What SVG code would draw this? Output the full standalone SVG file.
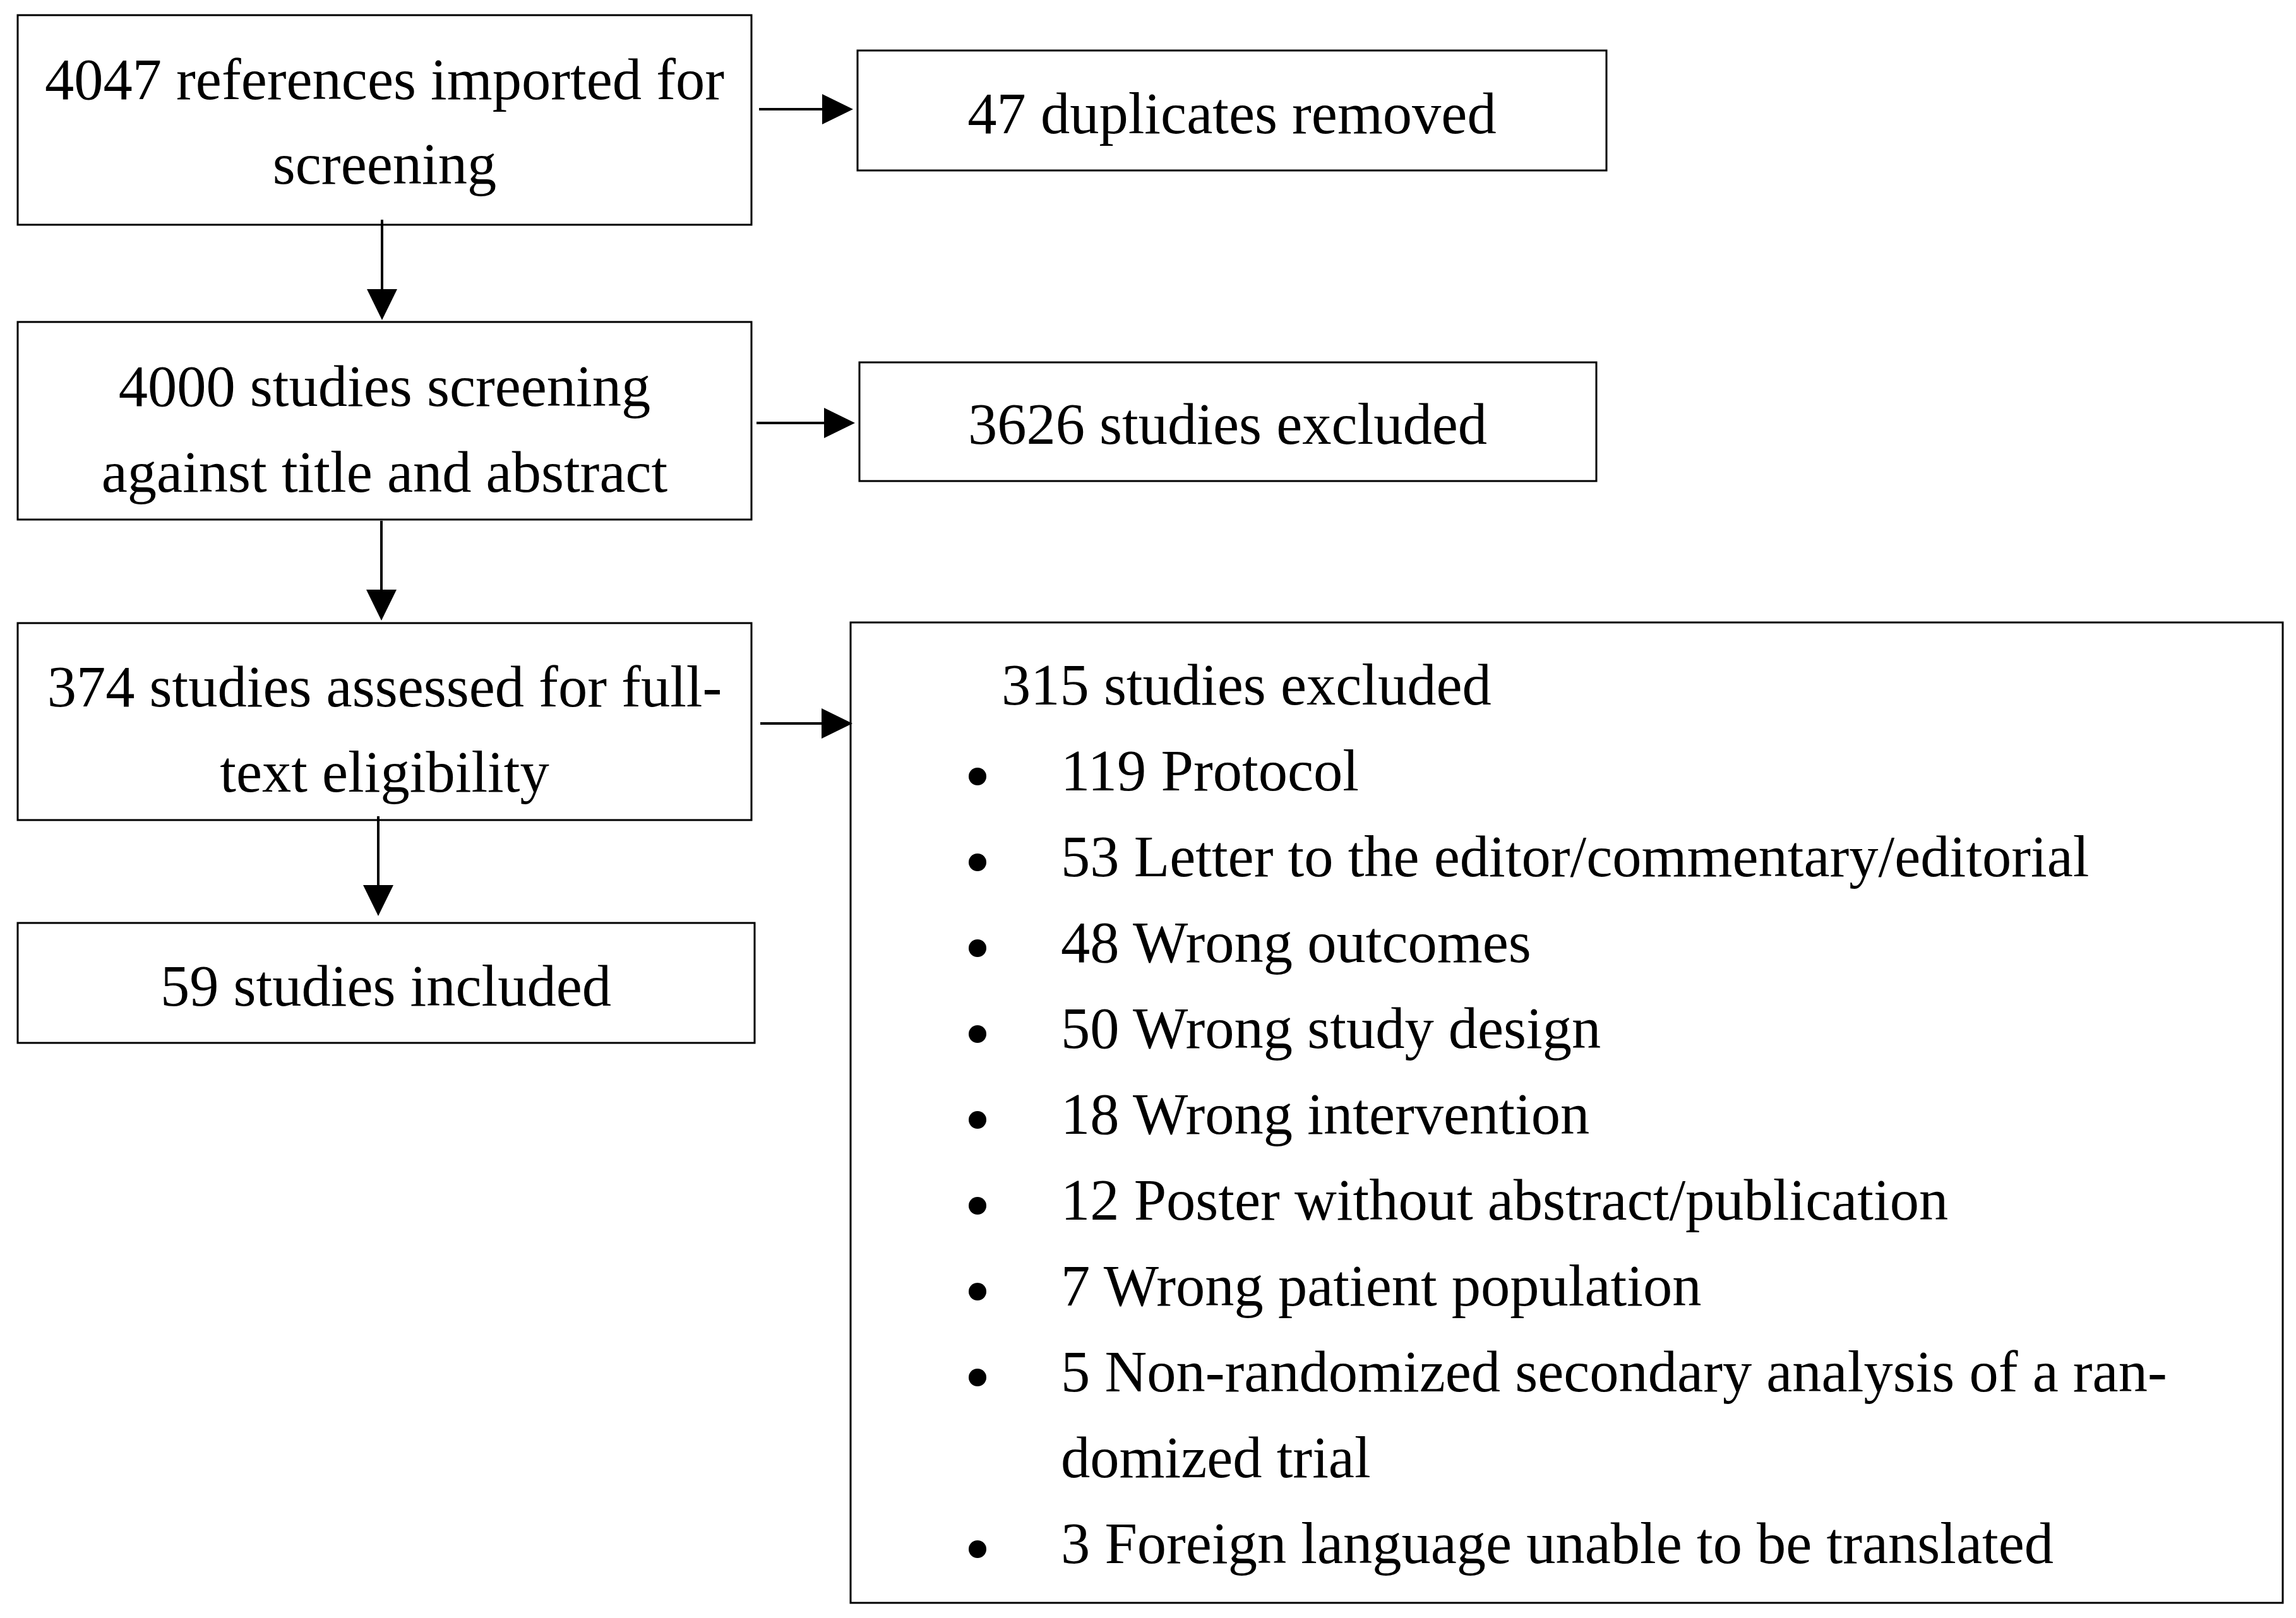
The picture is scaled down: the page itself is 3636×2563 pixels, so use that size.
<svg xmlns="http://www.w3.org/2000/svg" width="3636" height="2563" viewBox="0 0 3636 2563">
<style>
.box{fill:#fff;stroke:#000;stroke-width:3}
.t{font-family:"Liberation Serif","Times New Roman",serif;font-size:92.5px;fill:#000}
.c{text-anchor:middle}
.conn{stroke:#000;stroke-width:4;fill:none}
</style>
<defs>
<marker id="ah" markerUnits="userSpaceOnUse" markerWidth="50" markerHeight="50" refX="29" refY="25" orient="auto">
<path d="M0,1 L49,25 L0,49 Z" fill="#000"/>
</marker>
</defs>
<rect width="3636" height="2563" fill="#fff"/>
<g id="n1"><rect class="box" x="28" y="24" width="1162" height="332"/>
<text class="t c" x="609" y="157">4047 references imported for</text>
<text class="t c" x="609" y="291">screening</text></g>
<g id="n2"><rect class="box" x="1358" y="80" width="1186" height="190"/>
<text class="t c" x="1951" y="211">47 duplicates removed</text></g>
<g id="n3"><rect class="box" x="28" y="510" width="1162" height="313"/>
<text class="t c" x="609" y="643">4000 studies screening</text>
<text class="t c" x="609" y="779">against title and abstract</text></g>
<g id="n4"><rect class="box" x="1361" y="574" width="1167" height="188"/>
<text class="t c" x="1944" y="703">3626 studies excluded</text></g>
<g id="n5"><rect class="box" x="28" y="987" width="1162" height="312"/>
<text class="t c" x="609" y="1119">374 studies assessed for full-</text>
<text class="t c" x="609" y="1254">text eligibility</text></g>
<g id="n6"><rect class="box" x="28" y="1462" width="1167" height="190"/>
<text class="t c" x="611" y="1593">59 studies included</text></g>
<g id="n7"><rect class="box" x="1347" y="986" width="2268" height="1553"/>
<text class="t" x="1586" y="1116">315 studies excluded</text>
<g fill="#000">
<circle cx="1548" cy="1230" r="14"/><circle cx="1548" cy="1366" r="14"/><circle cx="1548" cy="1502" r="14"/><circle cx="1548" cy="1638" r="14"/><circle cx="1548" cy="1774" r="14"/><circle cx="1548" cy="1910" r="14"/><circle cx="1548" cy="2046" r="14"/><circle cx="1548" cy="2182" r="14"/><circle cx="1548" cy="2454" r="14"/>
</g>
<text class="t" x="1680" y="1252">119 Protocol</text>
<text class="t" x="1680" y="1388">53 Letter to the editor/commentary/editorial</text>
<text class="t" x="1680" y="1524">48 Wrong outcomes</text>
<text class="t" x="1680" y="1660">50 Wrong study design</text>
<text class="t" x="1680" y="1796">18 Wrong intervention</text>
<text class="t" x="1680" y="1932">12 Poster without abstract/publication</text>
<text class="t" x="1680" y="2068">7 Wrong patient population</text>
<text class="t" x="1680" y="2204">5 Non-randomized secondary analysis of a ran-</text>
<text class="t" x="1680" y="2340">domized trial</text>
<text class="t" x="1680" y="2476">3 Foreign language unable to be translated</text></g>
<g id="connectors">
<line class="conn" x1="1202" y1="173" x2="1331" y2="173" marker-end="url(#ah)"/>
<line class="conn" x1="605" y1="348" x2="605" y2="487" marker-end="url(#ah)"/>
<line class="conn" x1="1198" y1="670" x2="1334" y2="670" marker-end="url(#ah)"/>
<line class="conn" x1="604" y1="825" x2="604" y2="963" marker-end="url(#ah)"/>
<line class="conn" x1="1204" y1="1146" x2="1330" y2="1146" marker-end="url(#ah)"/>
<line class="conn" x1="599" y1="1293" x2="599" y2="1431" marker-end="url(#ah)"/>
</g>
</svg>
